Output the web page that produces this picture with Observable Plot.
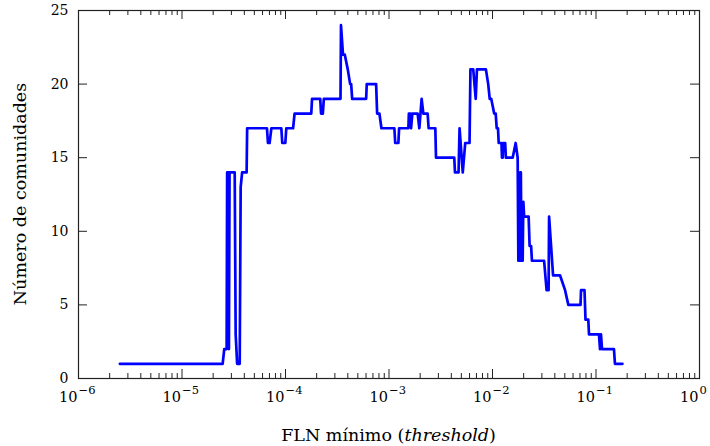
<!DOCTYPE html>
<html>
<head>
<meta charset="utf-8">
<script src="https://cdn.jsdelivr.net/npm/d3@7"></script>
<script src="https://cdn.jsdelivr.net/npm/@observablehq/plot@0.6"></script>
<style>
  html, body { margin: 0; padding: 0; background: white; }
</style>
</head>
<body>
<div id="chart"></div>
<script>
// ---- data ----
const thresholds = [
  2.51e-6, 2.47e-5, 2.56e-5, 2.70e-5, 2.73e-5, 2.77e-5, 2.80e-5, 2.84e-5, 2.88e-5, 3.23e-5,
  3.30e-5, 3.41e-5, 3.61e-5, 3.69e-5, 3.81e-5, 4.21e-5, 4.26e-5, 6.62e-5, 6.77e-5, 7.02e-5,
  7.30e-5, 9.11e-5, 9.31e-5, 9.96e-5, 1.018e-4, 1.184e-4, 1.224e-4, 1.774e-4, 1.805e-4, 2.166e-4,
  2.205e-4, 2.295e-4, 2.346e-4, 3.399e-4, 3.437e-4, 3.593e-4, 3.740e-4, 3.996e-4, 4.215e-4, 4.309e-4,
  4.406e-4, 6.015e-4, 6.095e-4, 7.508e-4, 7.68e-4, 8.08e-4, 8.45e-4, 1.127e-3, 1.148e-3, 1.232e-3,
  1.252e-3, 1.539e-3, 1.556e-3, 1.608e-3, 1.633e-3, 1.681e-3, 1.891e-3, 1.964e-3, 2.067e-3, 2.147e-3,
  2.362e-3, 2.415e-3, 2.803e-3, 2.846e-3, 4.272e-3, 4.339e-3, 4.700e-3, 4.806e-3, 5.16e-3, 5.453e-3,
  6.00e-3, 6.121e-3, 6.513e-3, 6.887e-3, 7.073e-3, 8.638e-3, 9.09e-3, 9.40e-3, 9.72e-3, 1.038e-2,
  1.074e-2, 1.098e-2, 1.130e-2, 1.148e-2, 1.221e-2, 1.235e-2, 1.254e-2, 1.268e-2, 1.326e-2, 1.346e-2,
  1.566e-2, 1.674e-2, 1.750e-2, 1.778e-2, 1.801e-2, 1.826e-2, 1.850e-2, 1.879e-2, 1.905e-2, 1.930e-2,
  1.956e-2, 1.986e-2, 2.022e-2, 2.234e-2, 2.284e-2, 2.361e-2, 2.404e-2, 3.152e-2, 3.332e-2, 3.483e-2,
  3.522e-2, 3.682e-2, 3.764e-2, 3.848e-2, 4.496e-2, 5.025e-2, 5.405e-2, 7.087e-2, 7.166e-2, 7.745e-2,
  7.918e-2, 8.425e-2, 8.558e-2, 0.1069, 0.1093, 0.1117, 0.1143, 0.1491, 0.1524, 0.1801
];
const communities = [
  1, 1, 2, 2, 14, 3, 14, 2, 14, 14,
  3, 1, 1, 13, 14, 14, 17, 17, 16, 16,
  17, 17, 16, 16, 17, 17, 18, 18, 19, 19,
  18, 18, 19, 19, 24, 22, 22, 21, 20, 20,
  19, 19, 20, 20, 18, 18, 17, 17, 16, 16,
  17, 17, 18, 18, 17, 18, 18, 17, 19, 18,
  18, 17, 17, 15, 15, 14, 14, 17, 14, 16,
  16, 21, 21, 19, 21, 21, 20, 19, 19, 18,
  18, 17, 17, 16, 16, 15, 15, 16, 16, 15,
  15, 16, 15, 8, 14, 8, 14, 14, 8, 12,
  8, 12, 11, 11, 9, 9, 8, 8, 6, 6,
  11, 9, 8, 7, 7, 6, 5, 5, 6, 6,
  4, 4, 3, 3, 2, 3, 2, 2, 1, 1
];
const xExponents = [-6, -5, -4, -3, -2, -1, 0];
const yTicks = [0, 5, 10, 15, 20, 25];
const xTitle = ["FLN mínimo (", "threshold", ")"];
const yTitle = "Número de comunidades";

// ---- derived tables ----
const series = thresholds.map((t, i) => ({t, n: communities[i]}));
const decades = xExponents.map(e => Math.pow(10, e));
const minorTicks = [];
for (const e of xExponents.slice(0, -1)) for (let m = 2; m <= 9; ++m) minorTicks.push(m * Math.pow(10, e));

const W = 710, H = 446, mL = 78, mR = 11, mT = 10, mB = 68;
const innerH = H - mT - mB, innerW = W - mL - mR;
const major = 9, minor = 5;
const font = "'DejaVu Serif', 'Liberation Serif', serif";

const chart = Plot.plot({
  width: W, height: H,
  marginLeft: mL, marginRight: mR, marginTop: mT, marginBottom: mB,
  style: {fontFamily: font, fontSize: "14px", background: "white", color: "black"},
  x: {type: "log", domain: [1e-6, 1], axis: null},
  y: {domain: [0, 25]},
  marks: [
    // x ticks (inward, bottom and top)
    Plot.ruleX(decades, {x: d => d, insetTop: innerH - major, stroke: "#222"}),
    Plot.ruleX(decades, {x: d => d, insetBottom: innerH - major, stroke: "#222"}),
    Plot.ruleX(minorTicks, {x: d => d, insetTop: innerH - minor, stroke: "#222"}),
    Plot.ruleX(minorTicks, {x: d => d, insetBottom: innerH - minor, stroke: "#222"}),
    // y ticks (inward, left and right)
    Plot.ruleY(yTicks, {y: d => d, insetRight: innerW - major, stroke: "#222"}),
    Plot.ruleY(yTicks, {y: d => d, insetLeft: innerW - major, stroke: "#222"}),
    Plot.axisY(yTicks, {tickSize: 0, tickPadding: 10, fontSize: 14, label: null}),
    // x tick labels 10^e
    Plot.text(decades, {x: d => d, text: () => "10", frameAnchor: "bottom", dy: 23, dx: -1, textAnchor: "end", fontSize: 14.5}),
    Plot.text(xExponents, {x: d => Math.pow(10, d), text: d => (d < 0 ? "\u2212" : "") + Math.abs(d), frameAnchor: "bottom", dy: 15, dx: 0, textAnchor: "start", fontSize: 11.5}),
    Plot.frame({stroke: "#222", strokeWidth: 1.2}),
    Plot.line(series, {x: "t", y: "n", stroke: "#0000ff", strokeWidth: 2.7, curve: "linear"})
  ]
});

// axis titles with mixed styling
const svg = d3.select(chart);
const xt = svg.append("text")
  .attr("x", mL + innerW / 2).attr("y", 441)
  .attr("text-anchor", "middle")
  .attr("font-family", font).attr("font-size", 17.5).attr("fill", "black");
xt.append("tspan").text(xTitle[0]);
xt.append("tspan").attr("font-style", "italic").text(xTitle[1]);
xt.append("tspan").text(xTitle[2]);
svg.append("text")
  .attr("transform", `translate(26,${mT + innerH / 2}) rotate(-90)`)
  .attr("text-anchor", "middle")
  .attr("font-family", font).attr("font-size", 17.5).attr("fill", "black")
  .text(yTitle);

document.getElementById("chart").appendChild(chart);
</script>
</body>
</html>
